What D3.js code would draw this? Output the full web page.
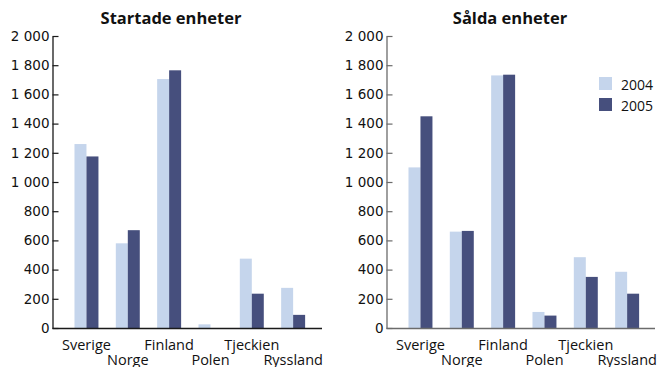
<!DOCTYPE html>
<html>
<head>
<meta charset="utf-8">
<script src="https://cdn.jsdelivr.net/npm/d3@7"></script>
<style>
  html, body { margin: 0; padding: 0; background: #fff; }
  svg { display: block; }
</style>
</head>
<body>
<svg id="chart" width="657" height="367"></svg>
<script>
// Enheter per land, 2004 och 2005
const categories = ["Sverige", "Norge", "Finland", "Polen", "Tjeckien", "Ryssland"];
const years = ["2004", "2005"];
const started2004 = [1260, 580, 1705, 25, 475, 275];
const started2005 = [1175, 670, 1765, 0, 235, 90];
const sold2004 = [1100, 660, 1730, 110, 485, 385];
const sold2005 = [1450, 665, 1735, 85, 350, 235];
const yTicks = [0, 200, 400, 600, 800, 1000, 1200, 1400, 1600, 1800, 2000];
const panelTitles = ["Startade enheter", "Sålda enheter"];

const colors = { "2004": "#c5d5ec", "2005": "#464f7d" };

const panels = [
  { title: panelTitles[0], series: [started2004, started2005], x0: 52.5, x1: 322, axisColor: "#1a1a1a", titleX: 171 },
  { title: panelTitles[1], series: [sold2004, sold2005], x0: 386.5, x1: 655, axisColor: "#6b6b6b", titleX: 510 }
];

const svg = d3.select("#chart");
const y = d3.scaleLinear().domain([0, 2000]).range([328, 36]);
// Swedish style: space as thousands separator
const fmt = v => v >= 1000 ? d3.format(",")(v).replace(",", " ") : String(v);

panels.forEach(p => {
  const g = svg.append("g");

  const x = d3.scaleBand()
    .domain(categories)
    .range([p.x0 + 13.3, p.x0 + 261.3])
    .paddingInner(0.42)
    .paddingOuter(0.21);
  const xs = d3.scaleBand().domain(years).range([0, x.bandwidth()]);

  // bars
  years.forEach((yr, si) => {
    g.append("g").selectAll("rect")
      .data(categories.map((c, i) => ({ c, v: p.series[si][i] })))
      .join("rect")
      .attr("x", d => x(d.c) + xs(yr))
      .attr("width", xs.bandwidth())
      .attr("y", d => y(d.v))
      .attr("height", d => y(0) - y(d.v))
      .attr("fill", colors[yr]);
  });

  // y axis
  const ya = g.append("g")
    .attr("transform", `translate(${p.x0},0)`)
    .call(d3.axisLeft(y).tickValues(yTicks).tickFormat(fmt).tickSizeInner(-6).tickSizeOuter(0).tickPadding(3));
  ya.select(".domain").attr("stroke", p.axisColor).attr("stroke-width", 1.3);
  ya.selectAll(".tick line").attr("stroke", p.axisColor).attr("stroke-width", 1.2);
  ya.selectAll(".tick text")
    .attr("font-family", "DejaVu Sans, sans-serif")
    .attr("font-size", 13.5)
    .attr("fill", "#111");

  // x axis
  const xa = g.append("g")
    .attr("transform", `translate(0,${y(0)})`)
    .call(d3.axisBottom(x).tickSize(0).tickPadding(0));
  xa.select(".domain")
    .attr("d", `M${p.x0},0.5H${p.x1}`)
    .attr("stroke", p.axisColor)
    .attr("stroke-width", 1.3);
  xa.selectAll(".tick text")
    .attr("font-family", "Open Sans, sans-serif")
    .attr("font-size", 14.5)
    .attr("fill", "#111")
    .attr("dy", null)
    .attr("y", (d, i) => i % 2 === 0 ? 21.5 : 37);

  // title
  g.append("text")
    .attr("x", p.titleX)
    .attr("y", 24)
    .attr("text-anchor", "middle")
    .attr("font-family", "Open Sans, sans-serif")
    .attr("font-weight", "bold")
    .attr("font-size", 16.5)
    .attr("fill", "#111")
    .text(p.title);
});

// legend
const legend = svg.append("g").attr("transform", "translate(599,77)");
years.forEach((yr, i) => {
  const row = legend.append("g").attr("transform", `translate(0,${i * 21})`);
  row.append("rect").attr("width", 13).attr("height", 13).attr("fill", colors[yr]);
  row.append("text")
    .attr("x", 22)
    .attr("y", 12.5)
    .attr("font-family", "Open Sans, sans-serif")
    .attr("font-size", 14)
    .attr("fill", "#111")
    .text(yr);
});
</script>
</body>
</html>
